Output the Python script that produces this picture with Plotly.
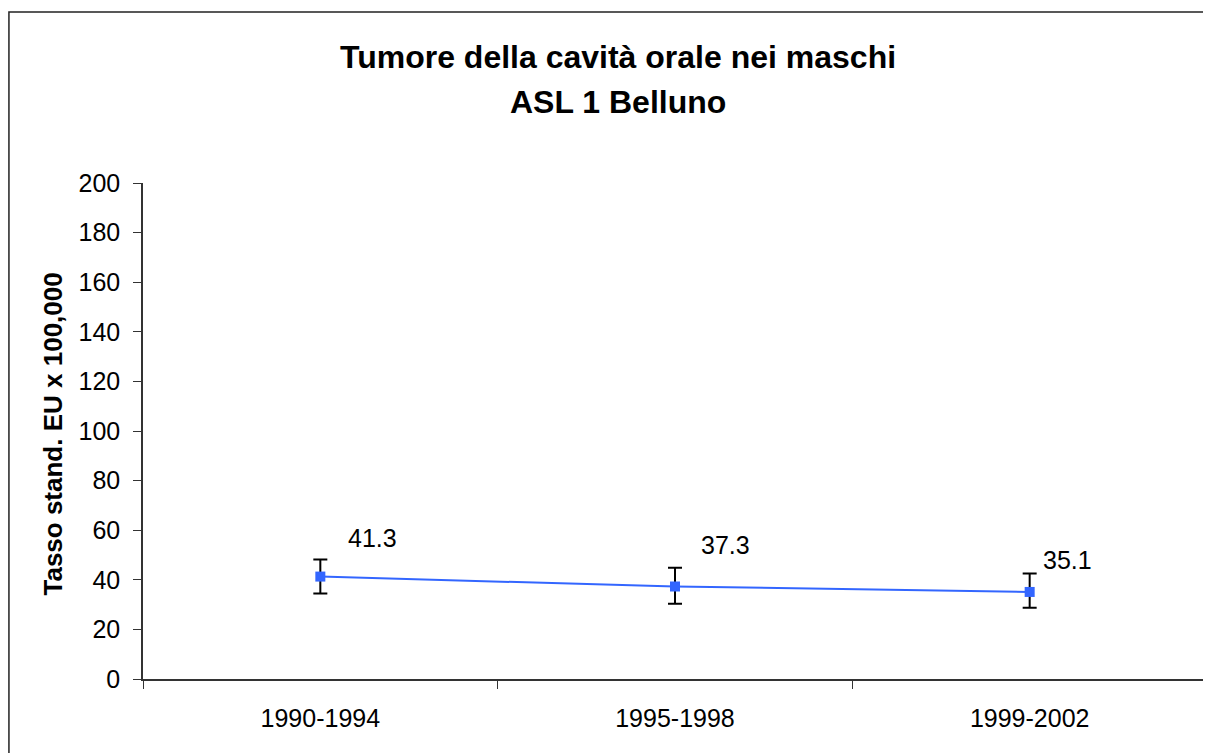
import plotly.graph_objects as go

# data
periods = ["1990-1994", "1995-1998", "1999-2002"]
rates = [41.3, 37.3, 35.1]
ci_upper = [48.2, 44.9, 42.5]
ci_lower = [34.5, 30.3, 28.7]
y_ticks = [0, 20, 40, 60, 80, 100, 120, 140, 160, 180, 200]

FONT = "Liberation Sans, Arial, sans-serif"

err_plus = [u - r for u, r in zip(ci_upper, rates)]
err_minus = [r - l for r, l in zip(rates, ci_lower)]

fig = go.Figure()

fig.add_trace(go.Scatter(
    x=periods,
    y=rates,
    mode="lines+markers",
    line=dict(color="#3366FF", width=2),
    marker=dict(symbol="square", size=10, color="#3366FF"),
    error_y=dict(
        type="data",
        symmetric=False,
        array=err_plus,
        arrayminus=err_minus,
        color="black",
        thickness=2,
        width=7,
    ),
    showlegend=False,
    hoverinfo="skip",
))

# value labels, up and to the right of each point
label_shift = [(52, 39), (50, 42), (38, 32)]
for p, r, (dx, dy) in zip(periods, rates, label_shift):
    fig.add_annotation(
        x=p, y=r, text=f"{r}", showarrow=False,
        xshift=dx, yshift=dy,
        font=dict(family=FONT, size=25, color="black"),
    )

# title lines
fig.add_annotation(
    xref="paper", yref="paper", x=0.446, y=1.254,
    xanchor="center", yanchor="middle",
    text="<b>Tumore della cavità orale nei maschi</b>",
    showarrow=False, font=dict(family=FONT, size=32, color="black"),
)
fig.add_annotation(
    xref="paper", yref="paper", x=0.446, y=1.163,
    xanchor="center", yanchor="middle",
    text="<b>ASL 1 Belluno</b>",
    showarrow=False, font=dict(family=FONT, size=32, color="black"),
)

# y axis title
fig.add_annotation(
    xref="paper", yref="paper", x=-0.085, y=0.494,
    xanchor="center", yanchor="middle",
    text="<b>Tasso stand. EU x 100,000</b>", textangle=-90,
    showarrow=False, font=dict(family=FONT, size=26, color="black"),
)

# outer chart border
fig.add_shape(
    type="rect", xref="paper", yref="paper",
    x0=-0.126, x1=1.02, y0=-0.2, y1=1.345,
    line=dict(color="#222222", width=1.5),
)

# the page body has an 8px margin, so the figure is 8px smaller
fig.update_layout(
    width=1203,
    height=745,
    margin=dict(l=135, r=4, t=175, b=74),
    paper_bgcolor="white",
    plot_bgcolor="white",
    font=dict(family=FONT, size=25, color="black"),
    xaxis=dict(
        type="category",
        range=[-0.5, 2.5],
        showgrid=False,
        zeroline=False,
        showline=True,
        linecolor="#333333",
        linewidth=1.5,
        ticks="outside",
        ticklen=8,
        tickcolor="#333333",
        tickson="boundaries",
        tickfont=dict(family=FONT, size=25),
        ticklabelstandoff=16,
    ),
    yaxis=dict(
        range=[0, 200],
        tickvals=y_ticks,
        showgrid=False,
        zeroline=False,
        showline=True,
        linecolor="#333333",
        linewidth=1.5,
        ticks="outside",
        ticklen=8,
        tickcolor="#333333",
        tickfont=dict(family=FONT, size=25),
        ticklabelstandoff=8,
    ),
)

fig.write_html("out.html")
